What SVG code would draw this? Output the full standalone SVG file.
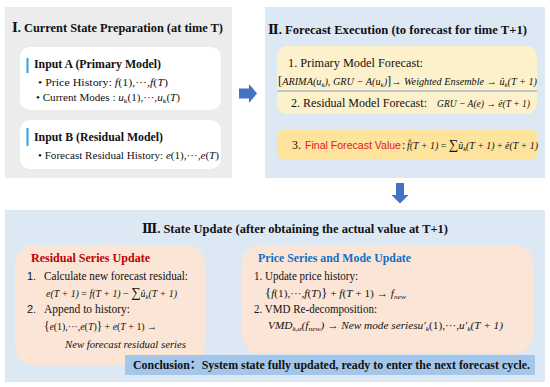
<svg xmlns="http://www.w3.org/2000/svg" width="550" height="387" viewBox="0 0 550 387">
<style>
.t{font-family:"Liberation Serif","DejaVu Serif","Noto Sans CJK SC",serif;fill:#111}
.s{font-family:"Liberation Sans","Noto Sans",sans-serif;fill:#111}
.b{font-weight:bold}
.i{font-style:italic}
.sub{font-size:7px}
.panelG{fill:#ececec}
.panelB{fill:#dde8f5}
.white{fill:#ffffff}
.bar{fill:#29a3e8}
.yel{fill:#fdf1cc}
.yel2{fill:#fde39c}
.peach{fill:#fbe5d6}
.arrow{fill:#4472c4}
</style>
<rect width="550" height="387" fill="#ffffff"/>

<g id="panel1">
<rect class="panelG" x="5" y="7" width="227" height="171"/>
<text class="t b" x="12" y="32" font-size="13.5" textLength="211" lengthAdjust="spacingAndGlyphs">Ⅰ. Current State Preparation (at time T)</text>
</g>

<g id="inputA">
<rect class="white" x="20" y="47" width="201" height="63" rx="10"/>
<rect class="bar" x="26.5" y="58" width="2" height="15"/>
<text class="t b" x="34" y="68" font-size="12" textLength="127" lengthAdjust="spacingAndGlyphs">Input A (Primary Model)</text>
<text class="t" x="38" y="86" font-size="10.5" textLength="130" lengthAdjust="spacingAndGlyphs">•  Price History:  <tspan class="i">f</tspan>(1),···,<tspan class="i">f</tspan>(<tspan class="i">T</tspan>)</text>
<text class="t" x="36" y="101" font-size="10.5" textLength="144" lengthAdjust="spacingAndGlyphs">• Current Modes : <tspan class="i">u</tspan><tspan class="sub" dy="2">k</tspan><tspan dy="-2">(1),···,</tspan><tspan class="i">u</tspan><tspan class="sub" dy="2">k</tspan><tspan dy="-2">(</tspan><tspan class="i">T</tspan>)</text>
</g>

<g id="inputB">
<rect class="white" x="20" y="120" width="201" height="49" rx="10"/>
<rect class="bar" x="26.5" y="128" width="2" height="18"/>
<text class="t b" x="34" y="141" font-size="12" textLength="129" lengthAdjust="spacingAndGlyphs">Input B (Residual Model)</text>
<text class="t" x="38" y="159" font-size="10.5" textLength="181" lengthAdjust="spacingAndGlyphs">•  Forecast Residual History: <tspan class="i">e</tspan>(1),···,<tspan class="i">e</tspan>(<tspan class="i">T</tspan>)</text>
</g>

<g id="panel2">
<rect class="panelB" x="265" y="7" width="280" height="171"/>
<text class="t b" x="268" y="34" font-size="13.5" textLength="259" lengthAdjust="spacingAndGlyphs">Ⅱ. Forecast Execution (to forecast for time T+1)</text>
</g>

<g id="forecastBox">
<rect class="yel" x="277" y="46" width="260" height="68" rx="10"/>
<text class="t" x="288" y="67" font-size="12" textLength="135" lengthAdjust="spacingAndGlyphs">1. Primary Model Forecast:</text>
<text class="t i" x="278" y="85" font-size="10.5" textLength="259" lengthAdjust="spacingAndGlyphs"><tspan font-style="normal" font-size="13">[</tspan>ARIMA(u<tspan class="sub" dy="2">k</tspan><tspan dy="-2">), GRU − A(u</tspan><tspan class="sub" dy="2">k</tspan><tspan dy="-2">)</tspan><tspan font-style="normal" font-size="13">]</tspan><tspan font-style="normal">→</tspan> Weighted  Ensemble <tspan font-style="normal">→</tspan> û<tspan class="sub" dy="2">k</tspan><tspan dy="-2">(T + 1)</tspan></text>
<line x1="277" y1="91" x2="537" y2="91" stroke="#7f9fcf" stroke-width="1"/>
<text class="t" x="291" y="107" font-size="12" textLength="136" lengthAdjust="spacingAndGlyphs">2. Residual Model Forecast:</text>
<text class="t i" x="437" y="107" font-size="10.5" textLength="93" lengthAdjust="spacingAndGlyphs">GRU − A(e) <tspan font-style="normal">→</tspan> ê(T + 1)</text>
</g>

<g id="finalBox">
<rect class="yel2" x="277" y="130" width="261" height="29" rx="6"/>
<text class="t" x="292" y="149" font-size="12">3.</text>
<text class="s" x="305" y="149" font-size="11.5" style="fill:#e02020" textLength="96" lengthAdjust="spacingAndGlyphs">Final Forecast Value</text>
<text class="t" x="402" y="149" font-size="11.5">:</text>
<text class="t i" x="407" y="149" font-size="10.5" textLength="131" lengthAdjust="spacingAndGlyphs">f̂(T + 1) <tspan font-style="normal">=</tspan> <tspan font-style="normal" font-size="14">∑</tspan>û<tspan class="sub" dy="2">k</tspan><tspan dy="-2">(T + 1) </tspan><tspan font-style="normal">+</tspan> ê(T + 1)</text>
</g>

<g id="panel3">
<rect class="panelB" x="5" y="210" width="540" height="172"/>
<text class="t b" x="142" y="233" font-size="13.5" textLength="306" lengthAdjust="spacingAndGlyphs">Ⅲ. State Update (after obtaining the actual value at T+1)</text>
</g>

<g id="residualBox">
<rect class="peach" x="15" y="245" width="190" height="120" rx="18"/>
<text class="t b" x="31" y="262" font-size="13" style="fill:#c00000" textLength="119" lengthAdjust="spacingAndGlyphs">Residual Series Update</text>
<text class="s" x="27" y="280" font-size="11">1.</text>
<text class="t" x="44" y="280" font-size="11.5" textLength="144" lengthAdjust="spacingAndGlyphs">Calculate new forecast residual:</text>
<text class="t i" x="46" y="297" font-size="10.5" textLength="131" lengthAdjust="spacingAndGlyphs">e(T + 1) <tspan font-style="normal">=</tspan> f(T + 1) <tspan font-style="normal">−</tspan> <tspan font-style="normal" font-size="14">∑</tspan>û<tspan class="sub" dy="2">k</tspan><tspan dy="-2">(T + 1)</tspan></text>
<text class="s" x="27" y="313" font-size="11">2.</text>
<text class="t" x="44" y="313" font-size="11.5" textLength="86" lengthAdjust="spacingAndGlyphs">Append to history:</text>
<text class="t" x="44" y="330" font-size="10.5" textLength="113" lengthAdjust="spacingAndGlyphs"><tspan font-size="12">{</tspan><tspan class="i">e</tspan>(1),···,<tspan class="i">e</tspan>(<tspan class="i">T</tspan>)<tspan font-size="12">}</tspan> + <tspan class="i">e</tspan>(<tspan class="i">T</tspan> + 1) →</text>
<text class="t i" x="65" y="348" font-size="10.5" textLength="121" lengthAdjust="spacingAndGlyphs">New  forecast  residual  series</text>
</g>

<g id="priceBox">
<rect class="peach" x="242" y="245" width="291" height="108" rx="18"/>
<text class="t b" x="258" y="262" font-size="13" style="fill:#1070c8" textLength="153" lengthAdjust="spacingAndGlyphs">Price Series and Mode Update</text>
<text class="t" x="254" y="280" font-size="11.5" textLength="104" lengthAdjust="spacingAndGlyphs">1. Update price history:</text>
<text class="t" x="265" y="297" font-size="10.5" textLength="141" lengthAdjust="spacingAndGlyphs"><tspan font-size="12">{</tspan><tspan class="i">f</tspan>(1),···,<tspan class="i">f</tspan>(<tspan class="i">T</tspan>)<tspan font-size="12">}</tspan> + <tspan class="i">f</tspan>(<tspan class="i">T</tspan> + 1) → <tspan class="i">f</tspan><tspan class="sub i" dy="2">new</tspan></text>
<text class="t" x="254" y="313" font-size="11.5" textLength="123" lengthAdjust="spacingAndGlyphs">2. VMD Re-decomposition:</text>
<text class="t i" x="268" y="329" font-size="10.5" textLength="235" lengthAdjust="spacingAndGlyphs">VMD<tspan class="sub" dy="2">k,α</tspan><tspan dy="-2">(f</tspan><tspan class="sub" dy="2">new</tspan><tspan dy="-2">)</tspan> <tspan font-style="normal">→</tspan> New  mode  seriesu′<tspan class="sub" dy="2">k</tspan><tspan dy="-2" font-style="normal">(1),···,</tspan>u′<tspan class="sub" dy="2">k</tspan><tspan dy="-2">(T + 1)</tspan></text>
</g>

<g id="conclusion">
<rect x="125" y="355" width="410" height="20" fill="#a4c6ea"/>
<text class="t b" x="133" y="369" font-size="12.5" textLength="397" lengthAdjust="spacingAndGlyphs">Conclusion：System state fully updated, ready to enter the next forecast cycle.</text>
</g>

<g id="connectors">
<path class="arrow" d="M239,88.5 H249 V84 L257,93.5 L249,103 V98.5 H239 Z"/>
<path class="arrow" d="M396,183 H404 V195 H408.5 L400,203.5 L391.5,195 H396 Z"/>
</g>
</svg>
